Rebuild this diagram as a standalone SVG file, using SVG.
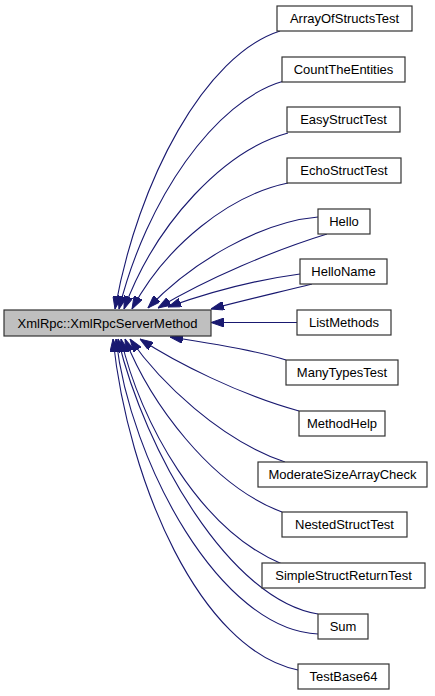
<svg xmlns="http://www.w3.org/2000/svg" width="435" height="696" viewBox="0 0 435 696">
<style>
.n rect{fill:#ffffff;stroke:#333333;stroke-width:1.2}
#main rect{fill:#bfbfbf;stroke:#333333;stroke-width:1.2}
.n text{font-family:"Liberation Sans",Arial,Helvetica,sans-serif;font-size:13px;fill:#000;text-anchor:middle}
.e path{fill:none;stroke:#191970;stroke-width:1.1;marker-end:url(#ah)}
</style>
<defs>
<marker id="ah" viewBox="0 0 13 9" refX="13" refY="4.5" markerWidth="13" markerHeight="9" markerUnits="userSpaceOnUse" orient="auto">
<path d="M0,0 L13,4.5 L0,9 z" fill="#191970" stroke="#191970" stroke-width="1"/>
</marker>
</defs>
<rect width="435" height="696" fill="#ffffff"/>
<g id="edges" class="e">
<path d="M280,31 C205,55 138,180 115,309"/>
<path d="M284,81 C215,100 146,200 119,309"/>
<path d="M288,133 C225,150 156,222 124,309"/>
<path d="M288,183 C230,195 166,245 132,309"/>
<path d="M318,217 C260,222 192,262 148,308"/>
<path d="M327,234 C275,250 208,278 158,308"/>
<path d="M300,274 C255,280 210,292 168,307"/>
<path d="M312,284 C280,292 245,300 211,309"/>
<path d="M297,322.5 L211,322.5"/>
<path d="M286,360 C255,350 210,343 170,337"/>
<path d="M299,411 C240,395 175,362 140,339"/>
<path d="M285,462 C220,440 160,382 130,339"/>
<path d="M282,512 C210,485 150,402 125,339"/>
<path d="M282,564 C200,530 140,422 121,339"/>
<path d="M318,614 C230,600 145,452 118,339"/>
<path d="M318,634 C220,630 130,462 116,339"/>
<path d="M298,670 C200,650 128,482 113,339"/>
</g>
<g id="main" class="n"><rect x="4" y="310" width="207" height="26"/><text x="107.5" y="327.5">XmlRpc::XmlRpcServerMethod</text></g>
<g id="n1" class="n"><rect x="277" y="6" width="135" height="25"/><text x="344.5" y="23">ArrayOfStructsTest</text></g>
<g id="n2" class="n"><rect x="282" y="57" width="123" height="25"/><text x="343.5" y="74">CountTheEntities</text></g>
<g id="n3" class="n"><rect x="287" y="107" width="113" height="25"/><text x="343.5" y="124">EasyStructTest</text></g>
<g id="n4" class="n"><rect x="287" y="158" width="114" height="25"/><text x="344" y="175">EchoStructTest</text></g>
<g id="n5" class="n"><rect x="318" y="209" width="52" height="25"/><text x="344" y="226">Hello</text></g>
<g id="n6" class="n"><rect x="300" y="259" width="87" height="25"/><text x="343.5" y="276">HelloName</text></g>
<g id="n7" class="n"><rect x="297" y="310" width="94" height="25"/><text x="344" y="327">ListMethods</text></g>
<g id="n8" class="n"><rect x="286" y="360" width="112" height="25"/><text x="342" y="377">ManyTypesTest</text></g>
<g id="n9" class="n"><rect x="299" y="411" width="86" height="25"/><text x="342" y="428">MethodHelp</text></g>
<g id="n10" class="n"><rect x="258" y="462" width="169" height="25"/><text x="342.5" y="479">ModerateSizeArrayCheck</text></g>
<g id="n11" class="n"><rect x="282" y="512" width="125" height="25"/><text x="344.5" y="529">NestedStructTest</text></g>
<g id="n12" class="n"><rect x="262" y="563" width="163" height="25"/><text x="343.5" y="580">SimpleStructReturnTest</text></g>
<g id="n13" class="n"><rect x="318" y="614" width="50" height="25"/><text x="343" y="631">Sum</text></g>
<g id="n14" class="n"><rect x="298" y="664" width="91" height="25"/><text x="343.5" y="681">TestBase64</text></g>
</svg>
